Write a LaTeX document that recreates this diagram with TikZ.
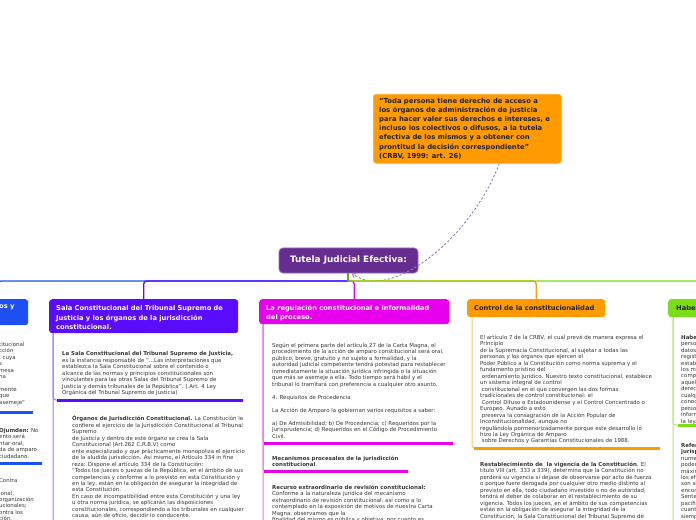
\documentclass[tikz,border=0pt]{standalone}
\usepackage{fontspec}
\setmainfont{DejaVu Sans}
\usetikzlibrary{arrows.meta}
\definecolor{rootc}{HTML}{662D91}
\definecolor{callc}{HTML}{FF9A00}
\definecolor{purc}{HTML}{5A0CFF}
\definecolor{magc}{HTML}{E800EE}
\definecolor{orac}{HTML}{FF9A00}
\definecolor{grnc}{HTML}{7ADD16}
\definecolor{bluc}{HTML}{1E4FF2}
\definecolor{txtc}{HTML}{383838}
\definecolor{darkt}{HTML}{222222}
\definecolor{dashc}{HTML}{9C7CC4}
\tikzset{
  shapebox/.style={rounded corners=3bp, anchor=north west, inner sep=0pt},
  ttl/.style={anchor=north west, inner sep=0pt, align=left, font=\bfseries\fontsize{6.7}{9.5}\selectfont},
  body/.style={anchor=north west, inner xsep=0pt, inner ysep=0pt, align=left, text=txtc, font=\fontsize{5.45}{6.5}\selectfont},
  mainline/.style={line width=1.3bp, rounded corners=3bp},
  subline/.style={line width=1bp, rounded corners=3bp},
  uline/.style={line width=3bp},
}
\begin{document}
\begin{tikzpicture}[x=1bp,y=-1bp]
\useasboundingbox (0,0) rectangle (696,520);
\fill[white] (0,0) rectangle (696,520);
\clip (0,0) rectangle (696,520);

% ---------- root and callout ----------
\node[rounded corners=4bp, fill=rootc, draw=rootc!70!white, line width=0.8bp,
      minimum width=139bp, minimum height=25bp, inner sep=0pt, text=white,
      font=\bfseries\fontsize{8.9}{10}\selectfont] (root) at (348.5,260.5) {Tutela Judicial Efectiva:};

\node[shapebox, fill=callc, draw=callc!80!white, line width=0.6bp, minimum width=188bp, minimum height=69bp] (call) at (373,94) {};
\node[anchor=north west, inner sep=0pt, align=left, text=darkt,
      font=\bfseries\fontsize{6.85}{9.1}\selectfont] (callT) at (379,98.3)
 {"Toda persona tiene derecho de acceso a\\
  los órganos de administración de justicia\\
  para hacer valer sus derechos e intereses, e\\
  incluso los colectivos o difusos, a la tutela\\
  efectiva de los mismos y a obtener con\\
  prontitud la decisión correspondiente"\\
  (CRBV, 1999: art. 26)};

\draw[dashc, line width=0.9bp, dash pattern=on 2.2bp off 2bp,
      -{Straight Barb[length=3bp,width=4.5bp]}]
  ([xshift=32bp]call.south) .. controls (470,240) and (390,302) .. ([xshift=3.5bp]root.south);

% ---------- branch boxes ----------
\node[shapebox, fill=bluc, minimum width=60bp, minimum height=26bp] (nBlu) at (-32,299) {};
\node[ttl, text=white] (tBlu) at (-1,304.6) {os y};

\node[shapebox, fill=purc, minimum width=189bp, minimum height=34bp] (nPur) at (49,299) {};
\node[ttl, text=white] (tPur) at (56,305.6) {Sala Constitucional del Tribunal Supremo de\\Justicia y los órganos de la jurisdicción\\constitucional.};

\node[shapebox, fill=magc, minimum width=190bp, minimum height=25bp] (nMag) at (259,299) {};
\node[ttl, text=white] (tMag) at (266,304.6) {La regulación constitucional e informalidad\\del proceso.};

\node[shapebox, fill=orac, minimum width=138bp, minimum height=18bp] (nOra) at (467,299) {};
\node[ttl, text=darkt] (tOra) at (474,305) {Control de la constitucionalidad};

\node[shapebox, fill=grnc, minimum width=80bp, minimum height=18bp] (nGrn) at (668,299) {};
\node[ttl, text=darkt] (tGrn) at (676,305) {Habeas Data};

% ---------- main connectors ----------
\coordinate (hub) at (348,281);
\draw[mainline, bluc] (hub) -| (nBlu.north);
\draw[mainline, purc] (hub) -| (nPur.north);
\draw[mainline, orac] (hub) -| (nOra.north);
\draw[mainline, magc] (hub) -| (nMag.north);
\draw[mainline, grnc] (hub) -| (nGrn.north);
\draw[line width=1.6bp, grnc!80!black] (root.south -| hub) -- (hub);

% ---------- purple branch ----------
\node[body] (p1) at (62,351.3) {\textbf{La Sala Constitucional del Tribunal Supremo de Justicia,}\\
es la instancia responsable de "...Las interpretaciones que\\
establezca la Sala Constitucional sobre el contenido o\\
alcance de las normas y principios constitucionales son\\
vinculantes para las otras Salas del Tribunal Supremo de\\
Justicia y demás tribunales de la República". ( Art. 4 Ley\\
Orgánica del Tribunal Supremo de Justicia)};
\node[body] (p2) at (72,415.5) {\textbf{Órganos de Jurisdicción Constitucional.} La Constitución le\\
confiere el ejercicio de la Jurisdicción Constitucional al Tribunal\\
Supremo\\
de Justicia y dentro de este órgano se crea la Sala\\
Constitucional (Art.262 C.R.B.V) como\\
ente especializado y que prácticamente monopoliza el ejercicio\\
de la aludida jurisdicción. Así mismo, el Artículo 334 in fine\\
reza: Dispone el artículo 334 de la Constitución:\\
"Todos los jueces o juezas de la República, en el ámbito de sus\\
competencias y conforme a lo previsto en esta Constitución y\\
en la ley, están en la obligación de asegurar la integridad de\\
esta Constitución.\\
En caso de incompatibilidad entre esta Constitución y una ley\\
u otra norma jurídica, se aplicarán las disposiciones\\
constitucionales, correspondiendo a los tribunales en cualquier\\
causa, aún de oficio, decidir lo conducente.\\
Los tribunales};
\coordinate (p1u) at (57,400);
\coordinate (p2u) at (67,540);
\draw[subline, purc!55!white] ([xshift=4bp]nPur.south west) |- (p1u);
\draw[subline, purc!55!white] ([xshift=4bp]nPur.south west) |- (p2u);
\draw[uline, purc] (p1u) -- ++(186,0);

% ---------- magenta branch ----------
\node[body] (m1) at (272,342.8) {Según el primera parte del artículo 27 de la Carta Magna, el\\
procedimiento de la acción de amparo constitucional será oral,\\
público, breve, gratuito y no sujeto a formalidad, y la\\
autoridad judicial competente tendrá potestad para restablecer\\
inmediatamente la situación jurídica infringida o la situación\\
que más se asemeje a ella. Todo tiempo será hábil y el\\
tribunal lo tramitará con preferencia a cualquier otro asunto.\\[6.5bp]
4. Requisitos de Procedencia\\[6.5bp]
La Acción de Amparo la gobiernan varios requisitos a saber:\\[6.5bp]
a) De Admisibilidad; b) De Procedencia; c) Requeridos por la\\
Jurisprudencia; d) Requeridos en el Código de Procedimiento\\
Civil.};
\node[body] (m2) at (272,455.8) {\textbf{Mecanismos procesales de la jurisdicción}\\\textbf{constitucional}.};
\node[body] (m3) at (272,484.8) {\textbf{Recurso extraordinario de revisión constitucional:}\\
Conforme a la naturaleza jurídica del mecanismo\\
extraordinario de revisión constitucional, así como a lo\\
contemplado en la exposición de motivos de nuestra Carta\\
Magna, observamos que la\\
finalidad del mismo es pública y objetiva, por cuanto es};
\coordinate (m1u) at (264,443);
\coordinate (m2u) at (264,471);
\coordinate (m3u) at (264,560);
\draw[subline, magc!55!white] ([xshift=4bp]nMag.south west) |- (m1u);
\draw[subline, magc!55!white] ([xshift=4bp]nMag.south west) |- (m2u);
\draw[subline, magc!55!white] ([xshift=4bp]nMag.south west) |- (m3u);
\draw[uline, magc] (m1u) -- ++(189,0);
\draw[uline, magc] (m2u) -- ++(144,0);

% ---------- orange branch ----------
\node[body] (o1) at (480,334.8) {El artículo 7 de la CRBV, el cual prevé de manera expresa el\\
Principio\\
de la Supremacía Constitucional, al sujetar a todas las\\
personas y los órganos que ejercen el\\
Poder Público a la Constitución como norma suprema y el\\
fundamento prístino del\\
\ ordenamiento jurídico. Nuestro texto constitucional, establece\\
un sistema integral de control\\
\ constitucional en el que convergen las dos formas\\
tradicionales de control constitucional: el\\
\ Control Difuso o Estadounidense y el Control Concentrado o\\
Europeo. Aunado a esto\\
\ preserva la consagración de la Acción Popular de\\
Inconstitucionalidad, aunque no\\
regulándola pormenorizadamente porque este desarrollo lo\\
hizo la Ley Orgánica de Amparo\\
\ sobre Derechos y Garantías Constitucionales de 1988.};
\node[body] (o2) at (480,461.8) {\textbf{Restablecimiento de \ la vigencia de la Constitución}. El\\
título VIII (art. 333 a 339), determina que la Constitución no\\
perderá su vigencia si dejase de observarse por acto de fuerza\\
o porque fuere derogada por cualquier otro medio distinto al\\
previsto en ella, todo ciudadano investido o no de autoridad,\\
tendrá el deber de colaborar en el restablecimiento de su\\
vigencia. Todos los jueces, en el ámbito de sus competencias\\
están en la obligación de asegurar la integridad de la\\
Constitución, la Sala Constitucional del Tribunal Supremo de\\
Justicia};
\coordinate (o1u) at (474,448);
\draw[subline, orac!55!white] ([xshift=5bp]nOra.south west) |- (o1u);
\draw[uline, orac] (o1u) -- ++(186,0);

% ---------- green branch (cut at right edge) ----------
\node[body] (g1) at (681,334.8) {\textbf{Habeas Data:} Toda\\
persona tiene el derecho de acceder a la información y a los\\
datos que sobre sí misma o sobre sus bienes consten en\\
registros oficiales o privados, con las excepciones que\\
establezca la ley, así como de conocer el uso que se haga de\\
los mismos y su finalidad, y de solicitar ante el tribunal\\
competente la actualización, la rectificación o la destrucción\\
aquellos, si fuesen erróneos o afectasen ilegítimamente sus\\
derechos. Igualmente, podrá acceder a documentos de\\
cualquier naturaleza que contengan información cuyo\\
conocimiento sea de interés para comunidades o grupos de\\
personas. Queda a salvo el secreto de las fuentes de\\
información periodística y de otras profesiones que determine\\
la ley.};
\node[body] (g2) at (681,442.8) {\textbf{Referencias}\\\textbf{jurisprudenciales.}\\
numerosas\\poder\\máximo\\los efectos\\son similares\\encontramos\\Sentencia\\pacífica\\cuanto\\siempre};
\coordinate (g1u) at (678,425);
\coordinate (g2u) at (678,540);
\draw[subline, grnc!60!white] ([xshift=5bp]nGrn.south west) |- (g1u);
\draw[subline, grnc!60!white] ([xshift=5bp]nGrn.south west) |- (g2u);
\draw[uline, grnc] (g1u) -- ++(60,0);

% ---------- blue branch (cut at left edge) ----------
\node[body] (b1) at (-1,341.8) {titucional\\cción\\, cuya\\s\\mesa\\na\\[6.5bp]mente\\que\\asemeje"};
\node[body] (b2) at (-1,427.8) {\textbf{Ojumden:} No\\ento será\\ntar oral,\\da de amparo\\ciudadano.};
\node[body] (b3) at (-1,477.8) {Contra\\[6.5bp]ional,\\organización\\ucionales;\\ontra los\\ción,};
\coordinate (b1u) at (-10,412);
\coordinate (b2u) at (-10,463);
\draw[uline, bluc] (b1u) -- (33,412);
\draw[uline, bluc] (b2u) -- (42,463);
\end{tikzpicture}
\end{document}
